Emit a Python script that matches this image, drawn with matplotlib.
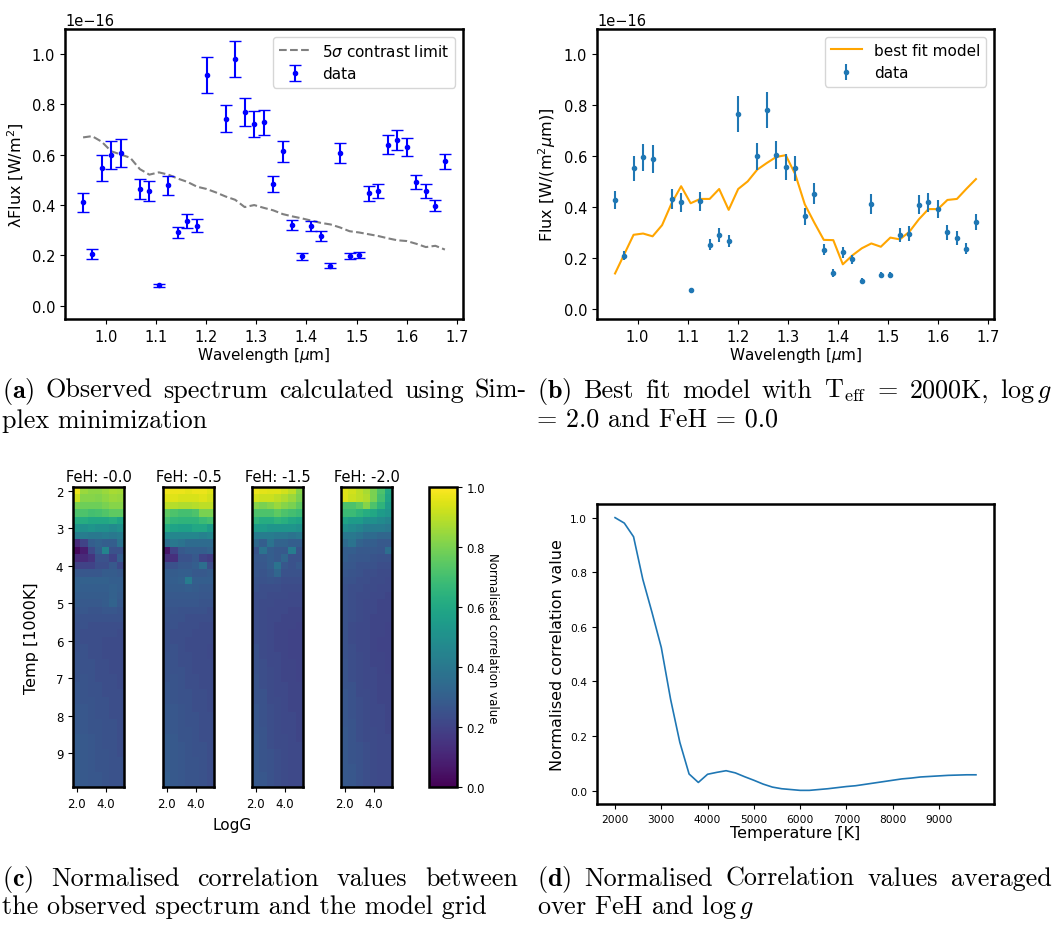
"""
Four-panel summary figure: observed spectrum, best fit model,
correlation grid per FeH and correlation averaged over FeH / log g.
"""
import numpy as np
import matplotlib

matplotlib.use("Agg")
import matplotlib.pyplot as plt

W, H = 1061, 928

# --- panel (a) / (b): spectra -------------------------------------------
# full wavelength grid of the model / contrast curve [um]
wl_grid = [0.955, 0.973, 0.992, 1.011, 1.030, 1.049, 1.068, 1.087, 1.106, 1.125,
           1.144, 1.163, 1.182, 1.201, 1.220, 1.239, 1.258, 1.277, 1.296, 1.315,
           1.334, 1.353, 1.372, 1.391, 1.410, 1.429, 1.448, 1.467, 1.486, 1.505,
           1.524, 1.543, 1.562, 1.581, 1.600, 1.619, 1.638, 1.657, 1.676]
# wavelengths with a measured data point [um]
wl_data = [0.955, 0.973, 0.992, 1.011, 1.030, 1.068, 1.087, 1.106, 1.125,
           1.144, 1.163, 1.182, 1.201, 1.239, 1.258, 1.277, 1.296, 1.315,
           1.334, 1.353, 1.372, 1.391, 1.410, 1.429, 1.448, 1.467, 1.486, 1.505,
           1.524, 1.543, 1.562, 1.581, 1.600, 1.619, 1.638, 1.657, 1.676]

# 5 sigma contrast limit, units of 1e-16 W/m^2
contrast_limit = [0.669, 0.674, 0.652, 0.614, 0.601, 0.588, 0.543, 0.521, 0.530, 0.521,
                  0.505, 0.492, 0.473, 0.464, 0.450, 0.434, 0.421, 0.392, 0.400, 0.389,
                  0.379, 0.364, 0.355, 0.347, 0.338, 0.329, 0.323, 0.311, 0.296, 0.291,
                  0.284, 0.277, 0.268, 0.260, 0.257, 0.246, 0.233, 0.238, 0.223]

# lambda * flux, units of 1e-16 W/m^2
lam_flux = [0.411, 0.204, 0.546, 0.600, 0.606, 0.465, 0.456, 0.081, 0.478,
            0.291, 0.337, 0.318, 0.918, 0.744, 0.982, 0.771, 0.722, 0.729,
            0.484, 0.613, 0.319, 0.196, 0.316, 0.278, 0.159, 0.606, 0.197, 0.200,
            0.446, 0.456, 0.640, 0.660, 0.631, 0.491, 0.456, 0.397, 0.574]
lam_flux_err = [0.038, 0.020, 0.052, 0.055, 0.055, 0.040, 0.038, 0.007, 0.038,
                0.023, 0.028, 0.026, 0.071, 0.054, 0.071, 0.056, 0.051, 0.050,
                0.032, 0.042, 0.020, 0.013, 0.020, 0.019, 0.011, 0.039, 0.013, 0.012,
                0.028, 0.029, 0.038, 0.040, 0.037, 0.028, 0.027, 0.022, 0.031]

# flux density, units of 1e-16 W/(m^2 um)
flux = [0.428, 0.209, 0.552, 0.595, 0.589, 0.433, 0.418, 0.073, 0.423,
        0.252, 0.289, 0.268, 0.765, 0.599, 0.781, 0.604, 0.557, 0.552,
        0.363, 0.453, 0.232, 0.141, 0.222, 0.194, 0.110, 0.413, 0.133, 0.132,
        0.289, 0.296, 0.410, 0.418, 0.392, 0.301, 0.277, 0.237, 0.341]
flux_err = [0.037, 0.018, 0.050, 0.053, 0.054, 0.040, 0.039, 0.005, 0.037,
            0.022, 0.027, 0.024, 0.070, 0.054, 0.072, 0.056, 0.050, 0.050,
            0.034, 0.041, 0.021, 0.014, 0.022, 0.019, 0.010, 0.039, 0.012, 0.012,
            0.027, 0.028, 0.039, 0.039, 0.036, 0.029, 0.027, 0.023, 0.032]

best_fit_model = [0.139, 0.213, 0.291, 0.296, 0.285, 0.329, 0.415, 0.482, 0.415, 0.432,
                  0.432, 0.471, 0.389, 0.471, 0.501, 0.547, 0.573, 0.597, 0.604, 0.529,
                  0.411, 0.339, 0.271, 0.270, 0.175, 0.210, 0.238, 0.257, 0.244, 0.280,
                  0.273, 0.303, 0.352, 0.392, 0.392, 0.428, 0.432, 0.472, 0.510]

# --- panel (c): normalised correlation grid (percent) --------------------
# rows: Teff 2000..9800 K in 200 K steps, columns: log g 2.0..5.0
logg_values = [2.0, 2.5, 3.0, 3.5, 4.0, 4.5, 5.0]
temp_kk = [2.0, 2.2, 2.4, 2.6, 2.8, 3.0, 3.2, 3.4, 3.6, 3.8,
           4.0, 4.2, 4.4, 4.6, 4.8, 5.0, 5.2, 5.4, 5.6, 5.8,
           6.0, 6.2, 6.4, 6.6, 6.8, 7.0, 7.2, 7.4, 7.6, 7.8,
           8.0, 8.2, 8.4, 8.6, 8.8, 9.0, 9.2, 9.4, 9.6, 9.8]
feh_labels = ["-0.0", "-0.5", "-1.5", "-2.0"]

corr_feh_00 = [
    [97, 85, 83, 83, 85, 87, 86], [92, 82, 82, 81, 83, 85, 84],
    [80, 78, 78, 78, 80, 82, 82], [72, 72, 70, 71, 73, 75, 75],
    [62, 62, 60, 60, 60, 62, 58], [52, 50, 52, 50, 50, 48, 50],
    [42, 42, 40, 40, 42, 40, 42], [12, 20, 30, 32, 30, 30, 38],
    [2, 8, 22, 30, 45, 25, 25], [12, 12, 15, 25, 25, 20, 30],
    [20, 20, 20, 24, 24, 28, 22], [28, 27, 27, 27, 29, 29, 28],
    [31, 31, 31, 31, 31, 30, 30], [31, 30, 30, 30, 30, 31, 30],
    [30, 29, 29, 29, 29, 31, 29], [29, 28, 28, 28, 29, 32, 28],
    [27, 27, 26, 26, 27, 27, 26], [26, 25, 25, 25, 25, 25, 25],
    [25, 25, 24, 24, 24, 24, 24], [25, 24, 24, 24, 24, 24, 23],
    [25, 24, 24, 24, 23, 23, 23], [25, 25, 24, 24, 23, 23, 23],
    [26, 25, 24, 24, 23, 23, 23], [26, 25, 25, 24, 24, 23, 23],
    [26, 25, 25, 24, 24, 23, 23], [26, 26, 25, 24, 24, 24, 23],
    [27, 26, 25, 25, 24, 24, 23], [27, 26, 25, 25, 24, 24, 24],
    [27, 26, 26, 25, 25, 24, 24], [28, 27, 26, 25, 25, 24, 24],
    [28, 27, 26, 25, 25, 24, 24], [28, 27, 26, 26, 25, 25, 24],
    [28, 27, 26, 26, 25, 25, 24], [29, 28, 27, 26, 25, 25, 24],
    [29, 28, 27, 26, 25, 25, 24], [29, 28, 27, 26, 26, 25, 24],
    [29, 28, 27, 26, 26, 25, 25], [29, 28, 27, 26, 26, 25, 25],
    [29, 28, 27, 27, 26, 25, 25], [29, 28, 27, 27, 26, 25, 25],
]
corr_feh_05 = [
    [98, 97, 97, 96, 97, 97, 95], [95, 95, 94, 94, 94, 95, 93],
    [90, 89, 88, 88, 89, 90, 90], [75, 72, 70, 70, 72, 80, 80],
    [70, 66, 65, 65, 65, 68, 70], [62, 58, 57, 57, 60, 60, 55],
    [48, 46, 46, 46, 46, 44, 46], [36, 40, 38, 35, 35, 35, 35],
    [6, 20, 28, 30, 30, 30, 32], [14, 14, 25, 25, 28, 20, 18],
    [25, 25, 28, 28, 30, 36, 24], [30, 29, 30, 30, 28, 28, 29],
    [30, 30, 31, 42, 30, 30, 30], [29, 29, 29, 30, 29, 28, 28],
    [28, 28, 28, 28, 28, 27, 27], [27, 27, 27, 27, 27, 26, 26],
    [26, 26, 25, 25, 25, 25, 24], [26, 25, 25, 24, 24, 24, 24],
    [25, 25, 24, 24, 24, 23, 23], [25, 24, 24, 24, 23, 23, 23],
    [25, 24, 24, 23, 23, 23, 23], [25, 25, 24, 23, 23, 23, 22],
    [26, 25, 24, 24, 23, 23, 22], [26, 25, 24, 24, 23, 23, 23],
    [26, 25, 25, 24, 23, 23, 23], [26, 26, 25, 24, 24, 23, 23],
    [27, 26, 25, 24, 24, 23, 23], [27, 26, 25, 25, 24, 24, 23],
    [27, 26, 25, 25, 24, 24, 23], [28, 27, 26, 25, 24, 24, 23],
    [28, 27, 26, 25, 25, 24, 24], [28, 27, 26, 25, 25, 24, 24],
    [28, 27, 26, 26, 25, 24, 24], [29, 28, 26, 26, 25, 24, 24],
    [29, 28, 27, 26, 25, 25, 24], [29, 28, 27, 26, 25, 25, 24],
    [29, 28, 27, 26, 26, 25, 24], [29, 28, 27, 26, 26, 25, 24],
    [30, 28, 27, 26, 26, 25, 24], [30, 28, 27, 26, 26, 25, 24],
]
corr_feh_15 = [
    [97, 96, 95, 95, 93, 90, 82], [93, 92, 92, 90, 88, 85, 80],
    [82, 80, 82, 85, 82, 80, 75], [72, 72, 72, 75, 72, 70, 68],
    [65, 62, 62, 65, 63, 60, 58], [55, 55, 52, 52, 52, 52, 50],
    [42, 42, 42, 40, 40, 38, 40], [34, 30, 38, 32, 32, 30, 30],
    [26, 38, 30, 28, 28, 42, 26], [28, 28, 30, 28, 33, 25, 25],
    [27, 27, 30, 38, 27, 25, 28], [27, 26, 28, 33, 25, 25, 25],
    [26, 25, 26, 25, 24, 24, 24], [25, 24, 24, 24, 23, 23, 23],
    [24, 24, 23, 23, 23, 22, 22], [24, 23, 23, 22, 22, 22, 22],
    [24, 23, 22, 22, 22, 21, 21], [24, 23, 22, 22, 21, 21, 21],
    [24, 23, 22, 21, 21, 21, 20], [24, 23, 22, 21, 21, 20, 20],
    [24, 23, 22, 21, 21, 20, 20], [25, 23, 22, 21, 21, 20, 20],
    [25, 23, 22, 22, 21, 20, 20], [25, 24, 22, 22, 21, 21, 20],
    [25, 24, 23, 22, 21, 21, 20], [26, 24, 23, 22, 21, 21, 20],
    [26, 24, 23, 22, 22, 21, 21], [26, 25, 23, 22, 22, 21, 21],
    [26, 25, 23, 23, 22, 21, 21], [27, 25, 24, 23, 22, 21, 21],
    [27, 25, 24, 23, 22, 22, 21], [27, 25, 24, 23, 22, 22, 21],
    [27, 26, 24, 23, 22, 22, 21], [28, 26, 24, 23, 23, 22, 21],
    [28, 26, 24, 23, 23, 22, 22], [28, 26, 25, 24, 23, 22, 22],
    [28, 26, 25, 24, 23, 22, 22], [28, 26, 25, 24, 23, 22, 22],
    [28, 27, 25, 24, 23, 22, 22], [28, 27, 25, 24, 23, 22, 22],
]
corr_feh_20 = [
    [95, 93, 90, 87, 80, 72, 60], [95, 92, 90, 88, 80, 70, 58],
    [72, 72, 75, 82, 72, 65, 55], [68, 68, 65, 62, 60, 55, 52],
    [58, 55, 55, 50, 50, 48, 45], [50, 48, 45, 42, 42, 42, 40],
    [40, 40, 38, 35, 35, 33, 33], [35, 38, 32, 30, 30, 28, 28],
    [30, 30, 28, 28, 28, 27, 36], [30, 28, 27, 27, 26, 25, 25],
    [28, 27, 25, 25, 25, 24, 24], [27, 26, 25, 24, 24, 23, 23],
    [26, 25, 24, 24, 23, 23, 22], [25, 24, 24, 23, 23, 22, 22],
    [25, 24, 23, 23, 22, 22, 21], [25, 24, 23, 22, 22, 21, 21],
    [25, 24, 23, 22, 22, 21, 21], [25, 24, 23, 22, 21, 21, 21],
    [25, 23, 22, 22, 21, 21, 20], [25, 23, 22, 22, 21, 21, 20],
    [25, 23, 22, 22, 21, 20, 20], [25, 24, 22, 22, 21, 20, 20],
    [25, 24, 23, 22, 21, 21, 20], [26, 24, 23, 22, 21, 21, 20],
    [26, 24, 23, 22, 22, 21, 20], [26, 24, 23, 22, 22, 21, 21],
    [26, 25, 23, 22, 22, 21, 21], [27, 25, 23, 23, 22, 21, 21],
    [27, 25, 24, 23, 22, 21, 21], [27, 25, 24, 23, 22, 22, 21],
    [27, 25, 24, 23, 22, 22, 21], [27, 26, 24, 23, 22, 22, 21],
    [28, 26, 24, 23, 23, 22, 21], [28, 26, 24, 23, 23, 22, 22],
    [28, 26, 25, 24, 23, 22, 22], [28, 26, 25, 24, 23, 22, 22],
    [28, 26, 25, 24, 23, 22, 22], [28, 27, 25, 24, 23, 22, 22],
    [28, 27, 25, 24, 23, 22, 22], [28, 27, 25, 24, 23, 22, 22],
]

# --- panel (d): correlation averaged over FeH and log g -------------------
temperatures = [2000, 2200, 2400, 2600, 2800, 3000, 3200, 3400, 3600, 3800,
                4000, 4200, 4400, 4600, 4800, 5000, 5200, 5400, 5600, 5800,
                6000, 6200, 6400, 6600, 6800, 7000, 7200, 7400, 7600, 7800,
                8000, 8200, 8400, 8600, 8800, 9000, 9200, 9400, 9600, 9800]
mean_corr = [1.000, 0.980, 0.930, 0.774, 0.652, 0.524, 0.335, 0.177, 0.061, 0.030,
             0.060, 0.067, 0.073, 0.065, 0.051, 0.038, 0.024, 0.013, 0.007, 0.004,
             0.001, 0.001, 0.004, 0.007, 0.011, 0.015, 0.018, 0.023, 0.028, 0.033,
             0.038, 0.043, 0.046, 0.050, 0.052, 0.054, 0.056, 0.057, 0.058, 0.058]

SPINE_LW = 1.8
CAPTION_SIZE = 18.8


def px_axes(fig, left, top, right, bottom):
    """Axes placed by pixel box (origin top-left)."""
    ax = fig.add_axes([left / W, 1 - bottom / H, (right - left) / W, (bottom - top) / H])
    for sp in ax.spines.values():
        sp.set_linewidth(SPINE_LW)
    return ax


def caption_text(fig, x, y, text):
    return fig.text(x / W, 1 - y / H, text, fontfamily="cmr10", math_fontfamily="cm",
                    fontsize=CAPTION_SIZE, va="baseline", ha="left")


def justified(fig, x_left, x_right, y, words):
    """Spread words over [x_left, x_right] like a justified LaTeX line."""
    renderer = fig.canvas.get_renderer()
    texts = [caption_text(fig, x_left, y, w) for w in words]
    widths = [t.get_window_extent(renderer).width for t in texts]
    gap = (x_right - x_left - sum(widths)) / (len(words) - 1)
    x = x_left
    for t, w in zip(texts, widths):
        t.set_x(x / W)
        x += w + gap


fig = plt.figure(figsize=(W / 100, H / 100), dpi=100)

# (a) observed spectrum
ax = px_axes(fig, 65, 30, 463, 320)
ax.plot(wl_grid, np.array(contrast_limit) * 1e-16, "--", color="gray",
        label=r"5$\sigma$ contrast limit")
ax.errorbar(wl_data, np.array(lam_flux) * 1e-16, yerr=np.array(lam_flux_err) * 1e-16,
            fmt=".", color="b", capsize=4, label="data")
ax.set_ylim(-0.053e-16, 1.10e-16)
ax.set_xlabel(r"Wavelength [$\mu$m]", fontsize=11, labelpad=1)
ax.set_ylabel(r"λFlux [W/m$^2$]", fontsize=11.5)
ax.tick_params(labelsize=10.5)
ax.yaxis.get_offset_text().set_fontsize(10.5)
ax.legend(loc="upper right", fontsize=11)

# (b) best fit model
ax = px_axes(fig, 597, 30, 994, 320)
ax.plot(wl_grid, np.array(best_fit_model) * 1e-16, color="orange", label="best fit model")
ax.errorbar(wl_data, np.array(flux) * 1e-16, yerr=np.array(flux_err) * 1e-16,
            fmt=".", color="C0", label="data")
ax.set_ylim(-0.04e-16, 1.10e-16)
ax.set_xlabel(r"Wavelength [$\mu$m]", fontsize=11, labelpad=1)
ax.set_ylabel(r"Flux [W/(m$^2\mu$m)]", fontsize=11.5)
ax.tick_params(labelsize=10.5)
ax.yaxis.get_offset_text().set_fontsize(10.5)
ax.legend(loc="upper right", fontsize=11)

# (c) correlation grid, one panel per FeH
extent = [1.75, 5.25, 9.9, 1.9]
grids = [corr_feh_00, corr_feh_05, corr_feh_15, corr_feh_20]
lefts = [73, 163, 252, 341]
for i, (grid, feh, x0) in enumerate(zip(grids, feh_labels, lefts)):
    ax = px_axes(fig, x0, 488, x0 + 51, 788)
    im = ax.imshow(np.array(grid) / 100.0, cmap="viridis", vmin=0, vmax=1,
                   aspect="auto", extent=extent, interpolation="nearest")
    ax.set_xticks([2.0, 4.0])
    ax.set_xticklabels(["2.0", "4.0"])
    ax.tick_params(labelsize=8.5)
    ax.set_title(f"FeH: {feh}", fontsize=10.5, pad=4)
    if i == 0:
        ax.set_yticks(range(2, 10))
        ax.set_ylabel("Temp [1000K]", fontsize=11.5, labelpad=12)
    else:
        ax.set_yticks([])

cax = px_axes(fig, 429, 488, 457, 788)
cb = fig.colorbar(im, cax=cax, ticks=[0.0, 0.2, 0.4, 0.6, 0.8, 1.0])
cb.outline.set_linewidth(SPINE_LW)
cb.ax.tick_params(labelsize=8.5)
cb.set_label("Normalised correlation value", rotation=270, fontsize=8.5, labelpad=10)
fig.text(232 / W, 1 - 826 / H, "LogG", fontsize=11, ha="center", va="center")

# (d) averaged correlation vs temperature
ax = px_axes(fig, 597, 505, 994, 805)
ax.plot(temperatures, mean_corr, color="C0", lw=1.2)
ax.set_xticks(range(2000, 10000, 1000))
ax.tick_params(labelsize=7.7)
ax.set_xlabel("Temperature [K]", fontsize=11.5, labelpad=1)
ax.set_ylabel("Normalised correlation value", fontsize=11.5)

# captions (first lines justified, last lines set naturally)
justified(fig, 2, 527, 398, [r"$\mathbf{(a)}$", "Observed", "spectrum", "calculated",
                             "using", "Sim-"])
caption_text(fig, 2, 428, "plex minimization")
justified(fig, 537, 1052, 398, [r"$\mathbf{(b)}$", "Best", "fit", "model", "with",
                                r"$\mathrm{T}_{\mathrm{eff}}$", "=", "2000K,",
                                r"$\log g$"])
caption_text(fig, 537, 428, "= 2.0 and FeH = 0.0")
justified(fig, 2, 518, 886, [r"$\mathbf{(c)}$", "Normalised", "correlation", "values",
                             "between"])
caption_text(fig, 2, 914, "the observed spectrum and the model grid")
justified(fig, 537, 1052, 886, [r"$\mathbf{(d)}$", "Normalised", "Correlation", "values",
                                "averaged"])
caption_text(fig, 537, 914, r"over FeH and $\log g$")

fig.savefig("out.png", dpi=100)
